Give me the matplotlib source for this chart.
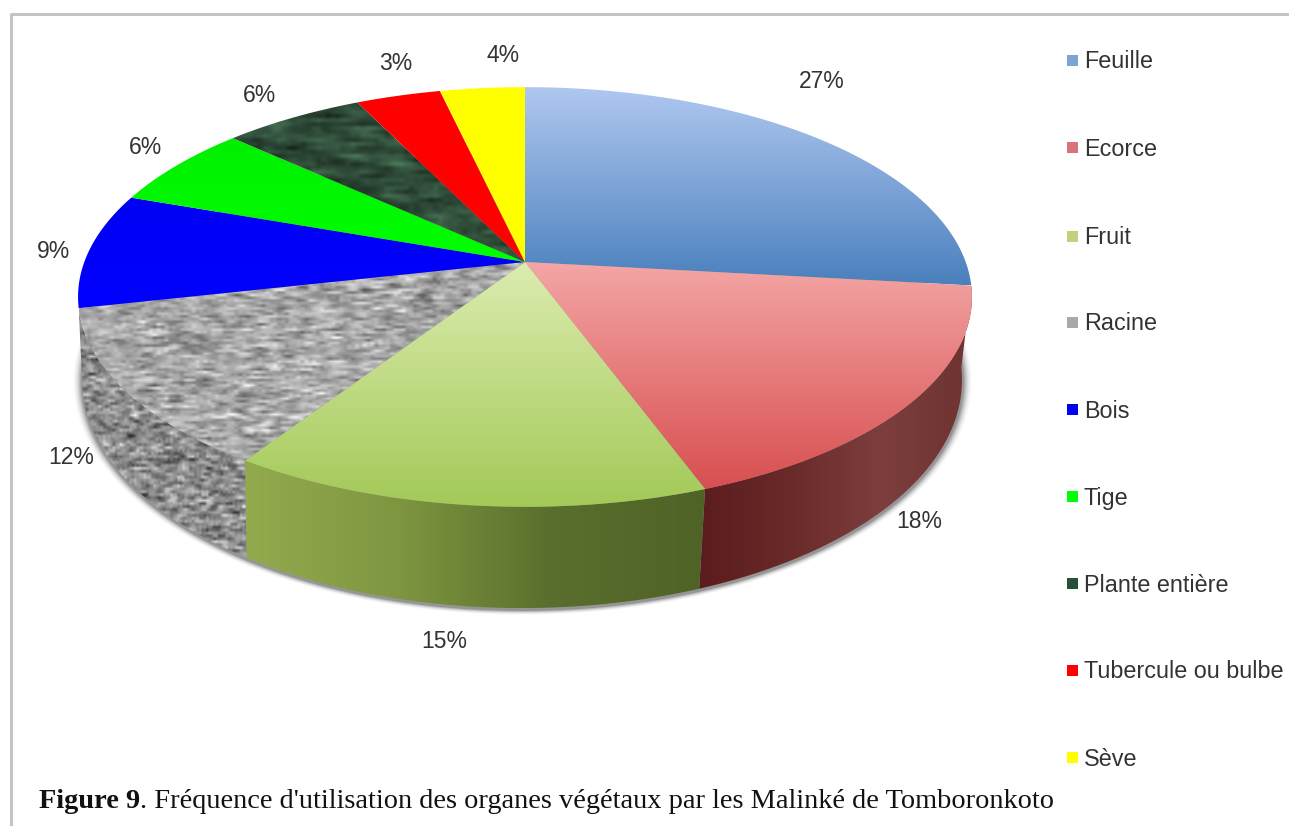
# plot.py
# Figure 9: 3D-looking pie of plant organ use, drawn on a pixel-sized axes.

import numpy as np
import matplotlib
matplotlib.use("Agg")
import matplotlib.pyplot as plt
from matplotlib.patches import PathPatch, Rectangle
from matplotlib.path import Path
from matplotlib.colors import to_rgb

W, H = 1289, 826

# ── Data ──────────────────────────────────────────────────────────────────────
organs = ["Feuille", "Ecorce", "Fruit", "Racine", "Bois", "Tige",
          "Plante entière", "Tubercule ou bulbe", "Sève"]
# slice sizes as measured on the picture, the printed labels are rounded
shares = [26.8, 17.6, 14.8, 12.3, 8.9, 6.4, 6.0, 3.6, 3.6]
pct_labels = ["27%", "18%", "15%", "12%", "9%", "6%", "6%", "3%", "4%"]

# ── Styles ────────────────────────────────────────────────────────────────────
legend_colors = ["#7ea3d6", "#d9757a", "#c0d27a", "#a9a9a9", "#0000ee",
                 "#00ff00", "#27503a", "#ff0000", "#ffff00"]
label_xy = [(822, 82), (919, 521), (444, 642), (71, 457), (54, 252),
            (145, 147), (259, 96), (396, 64), (503, 55)]
legend_y = [62, 149, 238, 324, 411, 498, 585, 672, 759]

# perspective circle: apex position, half width factor, half height factor
TOP = dict(cx=525, cy=262, a=440.7, b=204)
BOTTOM = dict(cx=522, cy=342, a=433.8, b=221.7)
K = 1 / 6

TEXT_COL = "#333333"
plt.rcParams["font.family"] = ["Liberation Sans", "DejaVu Sans"]


def rim(f0, f1, geom, n=120):
    """Points on the rim between two cumulative fractions, clockwise from top."""
    theta = 2 * np.pi * np.linspace(f0, f1, n)
    u, v = np.sin(theta), -np.cos(theta)
    w = 1 - K * v
    return geom["cx"] + geom["a"] * u / w, geom["cy"] + geom["b"] * v / w


def closed_path(xs, ys):
    verts = np.column_stack([xs, ys])
    verts = np.vstack([verts, verts[0]])
    codes = [Path.MOVETO] + [Path.LINETO] * (len(verts) - 2) + [Path.CLOSEPOLY]
    return Path(verts, codes)


def top_path(f0, f1):
    xs, ys = rim(f0, f1, TOP)
    return closed_path(np.r_[TOP["cx"], xs], np.r_[TOP["cy"], ys])


def wall_path(f0, f1):
    x0, y0 = rim(f0, f1, TOP)
    x1, y1 = rim(f0, f1, BOTTOM)
    return closed_path(np.r_[x0, x1[::-1]], np.r_[y0, y1[::-1]])


def paint(ax, path, img, zorder):
    """Show an image inside a path, stretched on the path's bounding box."""
    box = path.get_extents()
    patch = PathPatch(path, fc="none", ec="none", zorder=zorder)
    ax.add_patch(patch)
    im = ax.imshow(img, extent=(box.x0, box.x1, box.y1, box.y0), origin="upper",
                   aspect="auto", interpolation="bilinear", zorder=zorder)
    im.set_clip_path(patch)


def vgrad(c0, c1):
    return np.linspace(to_rgb(c0), to_rgb(c1), 256)[:, None, :]


def hgrad(stops):
    rgb = np.array([to_rgb(c) for c in stops])
    pos = np.linspace(0, 1, len(stops))
    t = np.linspace(0, 1, 256)
    return np.stack([np.interp(t, pos, rgb[:, i]) for i in range(3)], axis=-1)[None, :, :]


def streak_texture(rng, shape, run, base, spread, tint=(1, 1, 1)):
    """Noise smeared along the rows, gives the woven look of the two textures."""
    noise = rng.normal(size=shape)
    kernel = np.ones(run) / run
    noise = np.apply_along_axis(lambda r: np.convolve(r, kernel, mode="same"), 1, noise)
    noise = noise / noise.std()
    val = np.clip(base + spread * noise, 0, 1)
    return np.clip(np.stack([val * t for t in tint], axis=-1), 0, 1)


fig = plt.figure(figsize=(W / 100, H / 100), dpi=100, facecolor="white")
ax = fig.add_axes([0, 0, 1, 1])
rng = np.random.RandomState(9)

# frame of the pasted picture
ax.plot([11, 11, W], [H, 14, 14], color="#c4c4c4", lw=2.2, zorder=1)

# soft shadow under the disc
yy, xx = np.mgrid[100:640, 50:1000]
dist = np.hypot((xx - 522) / 441, (yy - 381) / 229) - 1
shadow = np.zeros(dist.shape + (4,))
shadow[..., :3] = 0.25
shadow[..., 3] = 0.55 * np.clip(1 - dist / 0.022, 0, 1) ** 2
ax.imshow(shadow, extent=(50, 1000, 640, 100), origin="upper", aspect="auto", zorder=2)

bounds = np.r_[0, np.cumsum(shares)] / sum(shares)

# side walls, only the front slices show one
wall_imgs = {
    1: hgrad(["#5a1c1e", "#6a2a2a", "#7c3f3d", "#6e3230"]),
    2: hgrad(["#93aa4e", "#7e9640", "#5a6e2d", "#4f6327"]),
    3: streak_texture(rng, (85, 70), 3, 0.55, 0.12),
}
for i, img in wall_imgs.items():
    paint(ax, wall_path(bounds[i], bounds[i + 1]), img, 3)

# top faces
top_imgs = [
    vgrad("#b0c8f0", "#4a80bd"),
    vgrad("#f4a6a6", "#d84f50"),
    vgrad("#dcecb0", "#a3c957"),
    streak_texture(rng, (75, 115), 3, 0.66, 0.10),
    vgrad("#0000f4", "#0000ff"),
    vgrad("#00f000", "#00ff00"),
    streak_texture(rng, (40, 60), 5, 0.25, 0.045, tint=(0.75, 1.2, 0.9)),
    vgrad("#ff0000", "#ff0000"),
    vgrad("#ffff00", "#ffff00"),
]
for i, img in enumerate(top_imgs):
    paint(ax, top_path(bounds[i], bounds[i + 1]), img, 4)

# percent labels
for txt, (x, y) in zip(pct_labels, label_xy):
    ax.text(x, y, txt, fontsize=16.5, color=TEXT_COL, ha="center", va="center", zorder=6)

# legend
for name, col, y in zip(organs, legend_colors, legend_y):
    ax.add_patch(Rectangle((1067, y - 7), 11, 11, fc=col, ec="none", zorder=6))
    ax.text(1084, y, name, fontsize=16.85, color=TEXT_COL, ha="left", va="center", zorder=6)

ax.set_xlim(0, W)
ax.set_ylim(H, 0)
ax.axis("off")

# caption, the bold part is measured so the regular part follows it
bold = ax.text(39, 808, "Figure 9", fontsize=20.4, family=["Liberation Serif"], weight="bold",
               color="#111111", ha="left", va="baseline", zorder=6)
fig.canvas.draw()
end = bold.get_window_extent().transformed(ax.transData.inverted()).x1
ax.text(end, 808, ". Fréquence d'utilisation des organes végétaux par les Malinké de Tomboronkoto",
        fontsize=20.4, family=["Liberation Serif"], color="#111111", ha="left", va="baseline", zorder=6)

fig.savefig("out.png", dpi=100, facecolor="white")
plt.close(fig)
